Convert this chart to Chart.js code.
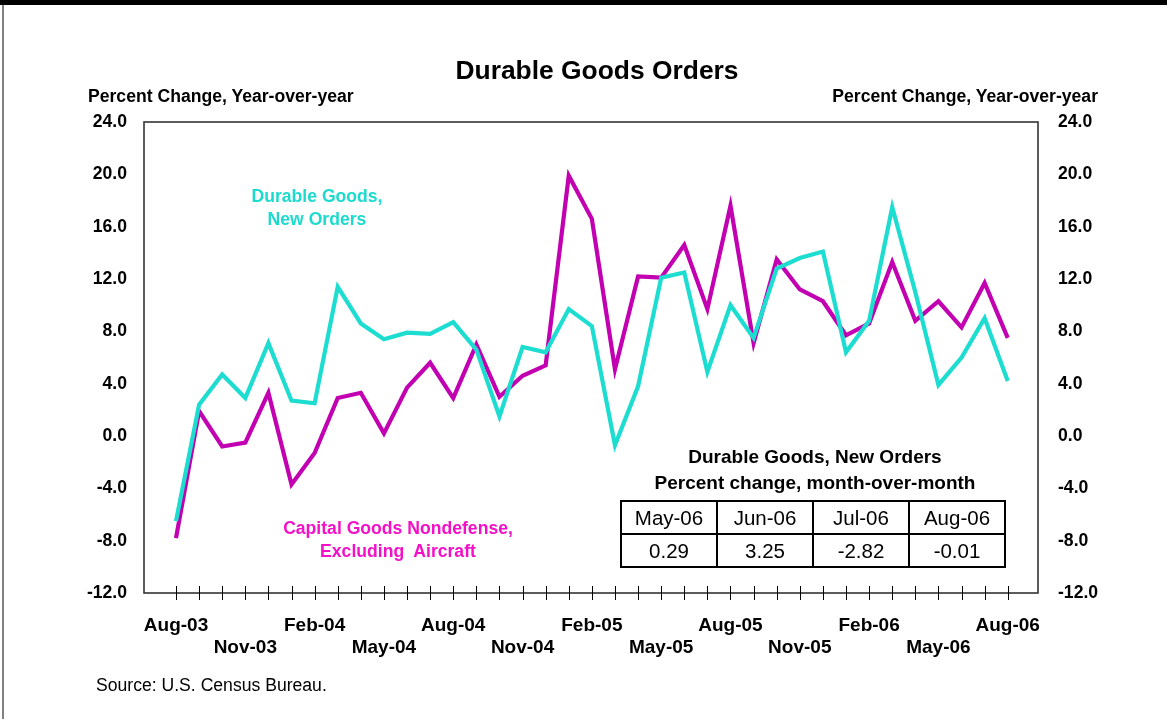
<!DOCTYPE html>
<html>
<head>
<meta charset="utf-8">
<script src="https://cdn.jsdelivr.net/npm/chart.js@4.4.1/dist/chart.umd.min.js"></script>
<style>
html,body{margin:0;padding:0;background:#fff;}
body{width:1167px;height:719px;position:relative;overflow:hidden;font-family:"Liberation Sans",Arial,sans-serif;}
#topbar{position:absolute;left:0;top:0;width:1167px;height:5px;background:#000;}
#leftbar{position:absolute;left:2px;top:5px;width:2px;height:714px;background:#808080;}
#cv{position:absolute;left:0;top:0;}
.t{position:absolute;white-space:nowrap;font-weight:bold;color:#000;line-height:1;}
.c{transform:translate(-50%,-50%);text-align:center;}
#title{left:597px;top:70px;font-size:26.4px;}
#ylt{left:88px;top:88px;font-size:17.6px;}
#yrt{right:69px;top:88px;font-size:17.6px;}
.lab{font-size:17.6px;line-height:23px;}
#labDG{left:317px;top:208px;color:#1CDBCE;}
#labCG{left:398px;top:540px;color:#F40FC8;}
#tblHead{left:815px;top:470px;font-size:19px;line-height:26px;}
#tbl{position:absolute;left:620px;top:500px;border-collapse:collapse;font-size:20.5px;}
#tbl td{border:2px solid #000;width:94px;text-align:center;padding:0;color:#000;}
#tbl tr.r1 td{height:31px;}
#tbl tr.r2 td{height:31px;}
#src{position:absolute;left:96px;top:677px;font-size:17.6px;font-weight:normal;color:#000;white-space:nowrap;line-height:1;}
</style>
</head>
<body>
<div id="topbar"></div>
<div id="leftbar"></div>
<canvas id="cv" width="1167" height="719"></canvas>
<div class="t c" id="title">Durable Goods Orders</div>
<div class="t" id="ylt">Percent Change, Year-over-year</div>
<div class="t" id="yrt">Percent Change, Year-over-year</div>
<div class="t c lab" id="labDG">Durable Goods,<br>New Orders</div>
<div class="t c lab" id="labCG">Capital Goods Nondefense,<br>Excluding&nbsp; Aircraft</div>
<div class="t c" id="tblHead">Durable Goods, New Orders<br>Percent change, month-over-month</div>
<table id="tbl"><tr class="r1" id="tblMonths"></tr><tr class="r2" id="tblVals"></tr></table>
<div id="src">Source: U.S. Census Bureau.</div>
<script>
const months = ['Aug-03','Sep-03','Oct-03','Nov-03','Dec-03','Jan-04','Feb-04','Mar-04','Apr-04','May-04','Jun-04','Jul-04',
  'Aug-04','Sep-04','Oct-04','Nov-04','Dec-04','Jan-05','Feb-05','Mar-05','Apr-05','May-05','Jun-05','Jul-05',
  'Aug-05','Sep-05','Oct-05','Nov-05','Dec-05','Jan-06','Feb-06','Mar-06','Apr-06','May-06','Jun-06','Jul-06','Aug-06'];
const durableGoods = [-6.5, 2.4, 4.7, 2.9, 7.1, 2.7, 2.5, 11.4, 8.6, 7.4, 7.9, 7.8,
  8.7, 6.6, 1.5, 6.8, 6.4, 9.7, 8.4, -0.7, 3.8, 12.1, 12.5, 4.9,
  10.0, 7.5, 12.8, 13.6, 14.1, 6.4, 8.8, 17.5, 11.0, 3.9, 6.0, 9.0, 4.2];
const capitalGoods = [-7.8, 1.9, -0.8, -0.5, 3.3, -3.7, -1.3, 2.9, 3.3, 0.2, 3.7, 5.6,
  2.9, 7.0, 3.0, 4.6, 5.4, 19.9, 16.6, 5.1, 12.2, 12.1, 14.6, 9.7,
  17.6, 7.1, 13.5, 11.2, 10.3, 7.7, 8.6, 13.3, 8.8, 10.3, 8.3, 11.7, 7.5];
const yTicks = [-12, -8, -4, 0, 4, 8, 12, 16, 20, 24];
const tableMonths = ['May-06', 'Jun-06', 'Jul-06', 'Aug-06'];
const tableValues = ['0.29', '3.25', '-2.82', '-0.01'];

document.getElementById('tblMonths').innerHTML = tableMonths.map(m => '<td>' + m + '</td>').join('');
document.getElementById('tblVals').innerHTML = tableValues.map(v => '<td>' + v + '</td>').join('');

const FAMILY = '"Liberation Sans", Arial, sans-serif';
const CA = {left: 144, top: 122, right: 1038, bottom: 593};

const framePlugin = {
  id: 'frame',
  beforeDatasetsDraw(chart) {
    const {ctx, chartArea: a} = chart;
    const x = chart.scales.x;
    ctx.save();
    ctx.strokeStyle = '#333';
    ctx.lineWidth = 1.6;
    ctx.strokeRect(a.left, a.top, a.right - a.left, a.bottom - a.top);
    ctx.lineWidth = 1;
    ctx.strokeStyle = '#000';
    months.forEach((m, i) => {
      const px = Math.round(x.getPixelForValue(i)) + 0.5;
      ctx.beginPath();
      ctx.moveTo(px, a.bottom - 7);
      ctx.lineTo(px, a.bottom + 7);
      ctx.stroke();
    });
    ctx.restore();
  }
};

const yAxis = (pos, width, pad) => ({
  type: 'linear',
  position: pos,
  min: -12, max: 24,
  afterBuildTicks: s => { s.ticks = yTicks.map(v => ({value: v})); },
  afterFit: s => { s.width = width; },
  ticks: {
    padding: pad,
    color: '#000',
    font: {family: FAMILY, size: 17.6, weight: 'bold'},
    callback: v => v.toFixed(1)
  },
  grid: {display: false, drawTicks: false},
  border: {display: false}
});

new Chart(document.getElementById('cv'), {
  type: 'line',
  data: {
    datasets: [
      {
        label: 'Durable Goods, New Orders',
        data: durableGoods.map((v, i) => ({x: i, y: v})),
        borderColor: '#1CDDD0',
        borderWidth: 4.2,
        pointRadius: 0,
        tension: 0,
        borderJoinStyle: 'miter',
        yAxisID: 'y'
      },
      {
        label: 'Capital Goods Nondefense, Excluding Aircraft',
        data: capitalGoods.map((v, i) => ({x: i, y: v})),
        borderColor: '#C200B2',
        borderWidth: 4.2,
        pointRadius: 0,
        tension: 0,
        borderJoinStyle: 'miter',
        yAxisID: 'y'
      }
    ]
  },
  options: {
    responsive: false,
    animation: false,
    devicePixelRatio: 1,
    layout: {padding: {top: CA.top, left: 0, right: 0, bottom: 0}},
    plugins: {legend: {display: false}, tooltip: {enabled: false}, title: {display: false}},
    scales: {
      x: {
        type: 'linear',
        min: -1.385, max: 37.31,
        afterBuildTicks: s => { s.ticks = months.map((m, i) => ({value: i})); },
        afterFit: s => { s.height = 719 - CA.bottom; },
        ticks: {
          autoSkip: false, maxRotation: 0, minRotation: 0,
          padding: 22,
          color: '#000',
          font: {family: FAMILY, size: 19, weight: 'bold', lineHeight: 22 / 19},
          callback: v => {
            const i = Math.round(v);
            if (i % 3 !== 0) return '';
            return (i / 3) % 2 ? ['', months[i]] : months[i];
          }
        },
        grid: {display: false, drawTicks: false},
        border: {display: false}
      },
      y: yAxis('left', CA.left, 17),
      y2: yAxis('right', 1167 - CA.right, 20)
    }
  },
  plugins: [framePlugin]
});
</script>
</body>
</html>
